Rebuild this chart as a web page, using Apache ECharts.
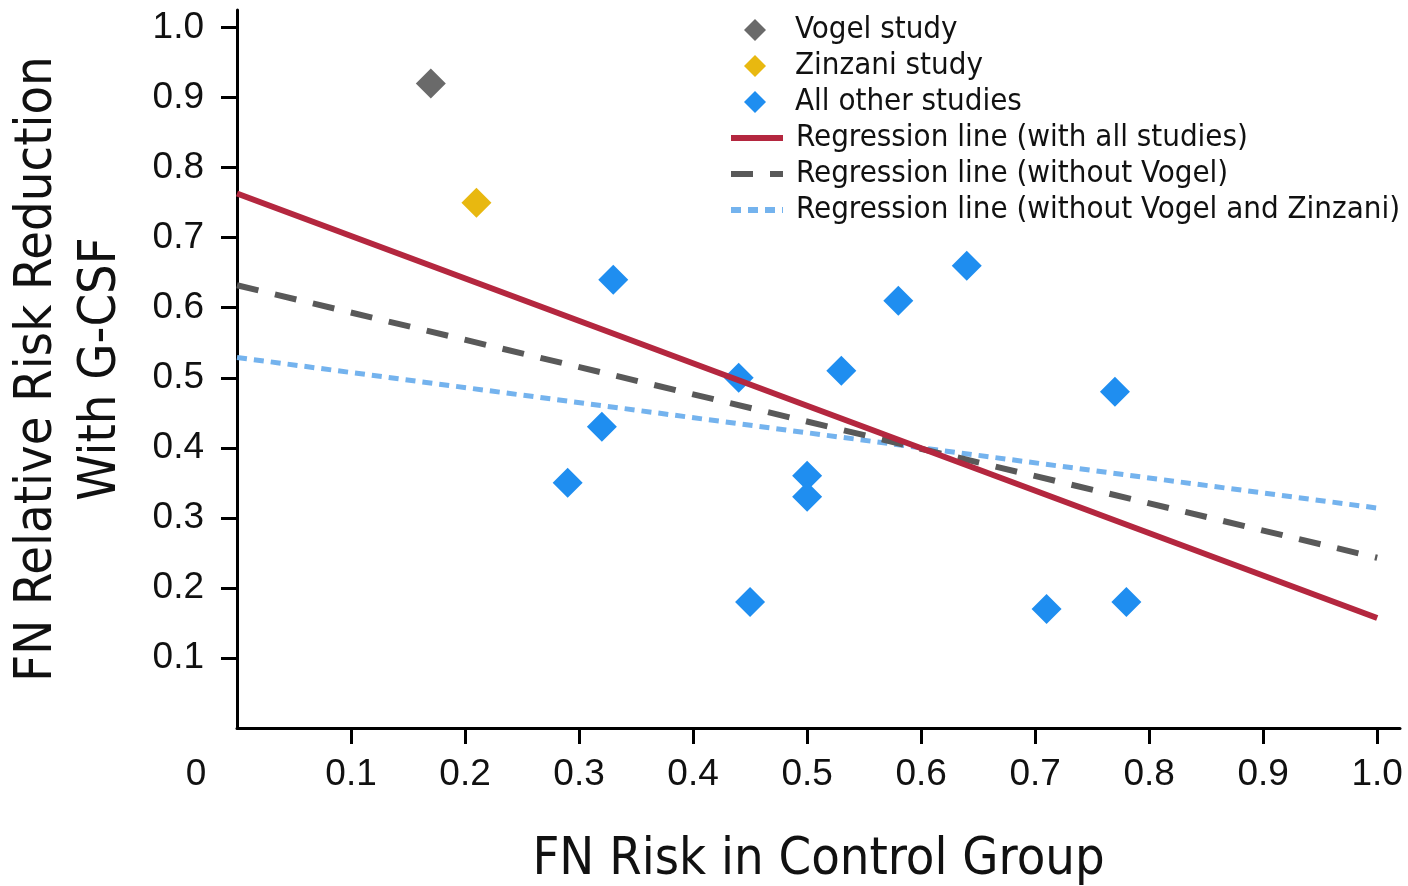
<!DOCTYPE html>
<html>
<head>
<meta charset="utf-8">
<title>FN risk vs. relative risk reduction with G-CSF</title>
<script src="https://cdn.jsdelivr.net/npm/echarts@6/dist/echarts.min.js"></script>
<style>
  html, body { margin: 0; padding: 0; background: #ffffff; }
  #chart { width: 1408px; height: 886px; }
</style>
</head>
<body>
<div id="chart"></div>
<script>
// Study points: [FN risk in control group, relative risk reduction]
const vogelStudy = [[0.17, 0.92]];
const zinzaniStudy = [[0.21, 0.75]];
const otherStudies = [
  [0.33, 0.64], [0.29, 0.35], [0.32, 0.43], [0.44, 0.50], [0.45, 0.18],
  [0.50, 0.36], [0.50, 0.33], [0.53, 0.51], [0.58, 0.61], [0.64, 0.66],
  [0.77, 0.48], [0.71, 0.17], [0.78, 0.18]
];

// Fitted regression lines, given by their values at x = 0 and x = 1
const regressionAll = [[0, 0.763], [1.0, 0.157]];
const regressionNoVogel = [[0, 0.632], [1.0, 0.243]];
const regressionNoVogelZinzani = [[0, 0.529], [1.0, 0.314]];

// Tick positions and labels
const xTicks = [0.1, 0.2, 0.3, 0.4, 0.5, 0.6, 0.7, 0.8, 0.9, 1.0];
const xLabels = [0, 0.1, 0.2, 0.3, 0.4, 0.5, 0.6, 0.7, 0.8, 0.9, 1.0];
const yTicks = [0.1, 0.2, 0.3, 0.4, 0.5, 0.6, 0.7, 0.8, 0.9, 1.0];

const pointNames = ['Vogel study', 'Zinzani study', 'All other studies'];
const lineNames = [
  'Regression line (with all studies)',
  'Regression line (without Vogel)',
  'Regression line (without Vogel and Zinzani)'
];

const condensed = '"DejaVu Sans Condensed", "Liberation Sans Narrow", "Roboto Condensed", sans-serif';
const numFont = '"Liberation Sans", Arial, sans-serif';

const chart = echarts.init(document.getElementById('chart'), null, { renderer: 'canvas' });

const axisLine = { show: true, lineStyle: { color: '#000000', width: 3 } };
const legendText = {
  fontFamily: condensed,
  fontSize: 31,
  lineHeight: 36,
  color: '#111111'
};

chart.setOption({
  backgroundColor: '#ffffff',
  animation: false,
  grid: {
    left: 237, right: 8, top: 10, bottom: 158,
    containLabel: false,
    outerBoundsMode: 'none'
  },
  legend: [
    {
      // marker legend for the study points
      orient: 'vertical',
      left: 739,
      top: 7,
      itemWidth: 22,
      itemHeight: 22,
      itemGap: 0,
      selectedMode: false,
      data: pointNames,
      textStyle: Object.assign({}, legendText, { padding: [0, 0, 0, 24] })
    },
    {
      // line legend for the regression fits
      orient: 'vertical',
      left: 723,
      top: 115,
      itemWidth: 52,
      itemHeight: 20,
      itemGap: 0,
      selectedMode: false,
      lineStyle: { width: 6 },
      data: lineNames.map(function (n) {
        return { name: n, itemStyle: { opacity: 0, borderWidth: 0 } };
      }),
      textStyle: Object.assign({}, legendText, { padding: [0, 0, 0, 8] })
    }
  ],
  xAxis: {
    type: 'value',
    min: 0,
    max: 1.02,
    name: 'FN Risk in Control Group',
    nameLocation: 'middle',
    nameGap: 104,
    nameTextStyle: { fontFamily: condensed, fontSize: 52, lineHeight: 56, color: '#111111' },
    axisLine: axisLine,
    splitLine: { show: false },
    axisTick: {
      show: true,
      inside: false,
      length: 16,
      customValues: xTicks,
      lineStyle: { color: '#000000', width: 3 }
    },
    axisLabel: {
      customValues: xLabels,
      margin: 28,
      fontFamily: numFont,
      fontSize: 37,
      lineHeight: 37,
      color: '#111111',
      formatter: function (v) { return v === 0 ? '{z|0}' : v.toFixed(1); },
      rich: {
        z: { fontFamily: numFont, fontSize: 37, lineHeight: 37, color: '#111111', padding: [0, 82, 0, 0] }
      }
    }
  },
  yAxis: {
    type: 'value',
    min: 0,
    max: 1.025,
    name: 'FN Relative Risk Reduction\nWith G-CSF',
    nameLocation: 'middle',
    nameGap: 104,
    nameTextStyle: { fontFamily: condensed, fontSize: 52, lineHeight: 64, color: '#111111', align: 'center' },
    axisLine: axisLine,
    splitLine: { show: false },
    axisTick: {
      show: true,
      inside: false,
      length: 16,
      customValues: yTicks,
      lineStyle: { color: '#000000', width: 3 }
    },
    axisLabel: {
      customValues: yTicks,
      margin: 33,
      fontFamily: numFont,
      fontSize: 37,
      color: '#111111',
      formatter: function (v) { return v.toFixed(1); }
    }
  },
  series: [
    {
      name: pointNames[0], type: 'scatter', data: vogelStudy,
      symbol: 'diamond', symbolSize: 30, z: 2,
      itemStyle: { color: '#6a6a6a', opacity: 1 }
    },
    {
      name: pointNames[1], type: 'scatter', data: zinzaniStudy,
      symbol: 'diamond', symbolSize: 30, z: 2,
      itemStyle: { color: '#e8b810', opacity: 1 }
    },
    {
      name: pointNames[2], type: 'scatter', data: otherStudies,
      symbol: 'diamond', symbolSize: 30, z: 2,
      itemStyle: { color: '#1f8ef0', opacity: 1 }
    },
    {
      name: lineNames[0], type: 'line', data: regressionAll,
      symbol: 'none', z: 5, silent: true,
      itemStyle: { color: '#b4273f' },
      lineStyle: { color: '#b4273f', width: 6, type: 'solid' }
    },
    {
      name: lineNames[1], type: 'line', data: regressionNoVogel,
      symbol: 'none', z: 4, silent: true,
      itemStyle: { color: '#595959' },
      lineStyle: { color: '#595959', width: 6, type: [22, 17] }
    },
    {
      name: lineNames[2], type: 'line', data: regressionNoVogelZinzani,
      symbol: 'none', z: 3, silent: true,
      itemStyle: { color: '#74b3ee' },
      lineStyle: { color: '#74b3ee', width: 5, type: [10, 7] }
    }
  ]
});
</script>
</body>
</html>
